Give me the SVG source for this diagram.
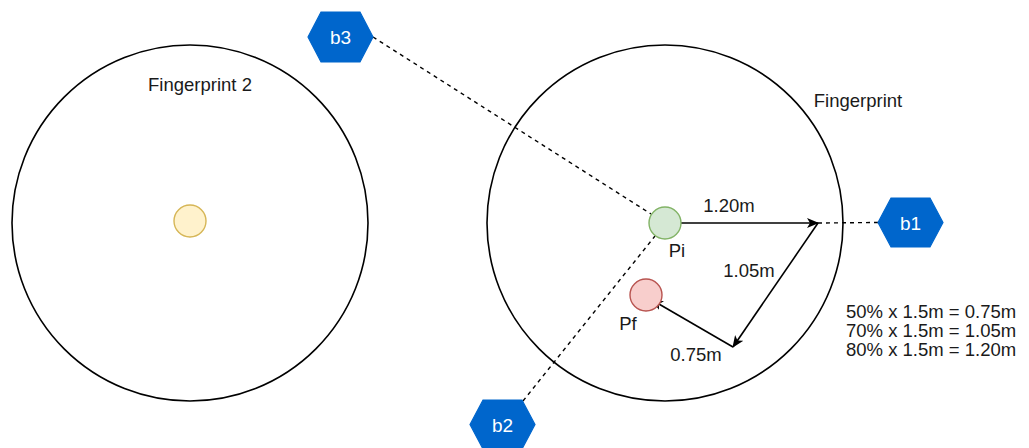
<svg xmlns="http://www.w3.org/2000/svg" width="1029" height="448" viewBox="0 0 1029 448">
<style>
.big{fill:none;stroke:#000;stroke-width:1.6}
.hex{fill:#0066cc;stroke:#0066cc;stroke-width:1.2}
.hl{font-family:"Liberation Sans",Arial,sans-serif;font-size:19px;fill:#ffffff;text-anchor:middle}
.t{font-family:"Liberation Sans",Arial,sans-serif;font-size:18.5px;fill:#1a1a1a}
.dash{fill:none;stroke:#000;stroke-width:1.4;stroke-dasharray:4 4}
.arr{fill:none;stroke:#000;stroke-width:1.6}
</style>
<defs>
<marker id="ah" viewBox="0 0 12 10" refX="11" refY="5" markerWidth="12" markerHeight="10" markerUnits="userSpaceOnUse" orient="auto">
<path d="M0,0 L12,5 L0,10 L3,5 Z" fill="#000"/>
</marker>
</defs>
<rect width="1029" height="448" fill="#ffffff"/>
<g id="fingerprint2">
<circle class="big" cx="190" cy="223" r="178"/>
<text class="t" x="200" y="91" text-anchor="middle">Fingerprint 2</text>
</g>
<g id="fingerprint">
<circle class="big" cx="665" cy="223" r="178"/>
<text class="t" x="858" y="107" text-anchor="middle">Fingerprint</text>
</g>
<g id="center2">
<circle cx="190" cy="221" r="16" fill="#fff2cc" stroke="#d6b656" stroke-width="1.4"/>
</g>
<g id="connectors">
<line class="dash" x1="373" y1="37" x2="651" y2="214"/>
<line class="dash" x1="523" y1="401" x2="655" y2="236"/>
<line class="dash" x1="818" y1="223" x2="878" y2="222.5"/>
<line class="arr" x1="681" y1="223" x2="818" y2="223" marker-end="url(#ah)"/>
<line class="arr" x1="818" y1="223" x2="733" y2="347" marker-end="url(#ah)"/>
<line class="arr" x1="733" y1="347" x2="652" y2="300" marker-end="url(#ah)"/>
<text class="t" x="729" y="212" text-anchor="middle">1.20m</text>
<text class="t" x="749" y="277" text-anchor="middle">1.05m</text>
<text class="t" x="696" y="361" text-anchor="middle">0.75m</text>
</g>
<g id="pi">
<circle cx="665" cy="223" r="16" fill="#d5e8d4" stroke="#82b366" stroke-width="1.4"/>
<text class="t" x="677" y="257" text-anchor="middle">Pi</text>
</g>
<g id="pf">
<circle cx="646" cy="295" r="16" fill="#f8cecc" stroke="#b85450" stroke-width="1.4"/>
<text class="t" x="628" y="330" text-anchor="middle">Pf</text>
</g>
<g id="b3">
<polygon class="hex" points="308,37 321,12 360,12 373,37 360,62 321,62"/>
<text class="hl" x="340.5" y="44">b3</text>
</g>
<g id="b1">
<polygon class="hex" points="878,222.5 891,198 930,198 943,222.5 930,247 891,247"/>
<text class="hl" x="910.5" y="229.5">b1</text>
</g>
<g id="b2">
<polygon class="hex" points="470,424.5 483,400 522,400 535,424.5 522,449 483,449"/>
<text class="hl" x="502.5" y="431.5">b2</text>
</g>
<g id="formula">
<text class="t" x="846" y="318">50% x 1.5m = 0.75m</text>
<text class="t" x="846" y="337">70% x 1.5m = 1.05m</text>
<text class="t" x="846" y="356">80% x 1.5m = 1.20m</text>
</g>
</svg>
